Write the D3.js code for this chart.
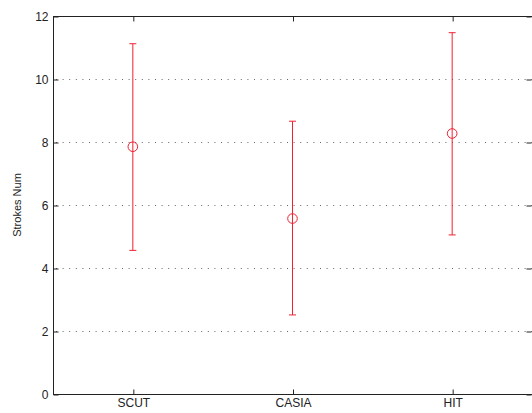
<!DOCTYPE html>
<html>
<head>
<meta charset="utf-8">
<script src="https://cdn.jsdelivr.net/npm/d3@7"></script>
<style>
  body { margin: 0; background: #fff; }
  svg { display: block; font-family: "Liberation Sans", Arial, sans-serif; }
</style>
</head>
<body>
<svg id="chart" width="532" height="413"></svg>
<script>
// data
var categories = ["SCUT", "CASIA", "HIT"];
var means = [7.85, 5.57, 8.27];
var upper = [11.12, 8.66, 11.47];
var lower = [4.56, 2.51, 5.05];
var yTicks = [0, 2, 4, 6, 8, 10, 12];

var svg = d3.select('#chart');
var plotLeft = 53, plotRight = 532, plotTop = 16, plotBottom = 394;

var x = d3.scaleLinear().domain([0.5, 3.5]).range([plotLeft, plotRight]);
var y = d3.scaleLinear().domain([0, 12]).range([plotBottom, plotTop]);

// grid lines
svg.append('g')
  .selectAll('line')
  .data(yTicks.filter(d => d > 0 && d < 12))
  .enter().append('line')
    .attr('x1', plotLeft + 3).attr('x2', plotRight)
    .attr('y1', d => Math.round(y(d)) + 0.5).attr('y2', d => Math.round(y(d)) + 0.5)
    .attr('stroke', '#666')
    .attr('stroke-width', 1)
    .attr('stroke-dasharray', '1,5.6');

// left axis
var yAxis = d3.axisLeft(y).tickValues(yTicks).tickSize(-5).tickPadding(5).tickFormat(d3.format('d'));
var gy = svg.append('g').attr('transform', 'translate(' + (plotLeft + 0.5) + ',0.5)').call(yAxis);
// right ticks
var gyr = svg.append('g').attr('transform', 'translate(' + (plotRight - 0.5) + ',0.5)')
  .call(d3.axisRight(y).tickValues(yTicks).tickSize(-5).tickFormat(''));

// bottom axis
var xAxis = d3.axisBottom(x).tickValues([1, 2, 3]).tickFormat((d, i) => categories[i]).tickSize(-5).tickPadding(4);
var gx = svg.append('g').attr('transform', 'translate(0.5,' + (plotBottom + 0.5) + ')').call(xAxis);
// top ticks
var gxt = svg.append('g').attr('transform', 'translate(0.5,' + (plotTop + 0.5) + ')')
  .call(d3.axisTop(x).tickValues([1, 2, 3]).tickSize(-5).tickFormat(''));

[gy, gx, gyr, gxt].forEach(g => {
  g.select('.domain').remove();
  g.selectAll('.tick line').attr('stroke', '#222');
  g.selectAll('text').attr('fill', '#222').style('font-size', '12px').style('font-family', '"Liberation Sans", Arial, sans-serif');
});

// box
svg.append('line').attr('x1', plotLeft + 0.5).attr('x2', plotLeft + 0.5).attr('y1', plotTop).attr('y2', plotBottom + 1).attr('stroke', '#222');
svg.append('line').attr('x1', plotLeft).attr('x2', plotRight).attr('y1', plotBottom + 0.5).attr('y2', plotBottom + 0.5).attr('stroke', '#222');
svg.append('line').attr('x1', plotLeft).attr('x2', plotRight).attr('y1', plotTop + 0.5).attr('y2', plotTop + 0.5).attr('stroke', '#222');

// y label
svg.append('text')
  .attr('transform', 'translate(21,' + ((plotTop + plotBottom) / 2) + ') rotate(-90)')
  .attr('text-anchor', 'middle')
  .style('font-size', '11px')
  .attr('fill', '#222')
  .text('Strokes Num');

// error bars
var bars = svg.append('g').selectAll('g')
  .data(categories)
  .enter().append('g');

bars.append('line')
  .attr('x1', (d, i) => x(i + 1)).attr('x2', (d, i) => x(i + 1))
  .attr('y1', (d, i) => y(upper[i])).attr('y2', (d, i) => y(lower[i]))
  .attr('stroke', '#f02030').attr('stroke-width', 1);
bars.append('line')
  .attr('x1', (d, i) => x(i + 1) - 3.5).attr('x2', (d, i) => x(i + 1) + 3.5)
  .attr('y1', (d, i) => y(upper[i])).attr('y2', (d, i) => y(upper[i]))
  .attr('stroke', '#f02030').attr('stroke-width', 1);
bars.append('line')
  .attr('x1', (d, i) => x(i + 1) - 3.5).attr('x2', (d, i) => x(i + 1) + 3.5)
  .attr('y1', (d, i) => y(lower[i])).attr('y2', (d, i) => y(lower[i]))
  .attr('stroke', '#f02030').attr('stroke-width', 1);
bars.append('circle')
  .attr('cx', (d, i) => x(i + 1))
  .attr('cy', (d, i) => y(means[i]))
  .attr('r', 4.8)
  .attr('fill', 'none')
  .attr('stroke', '#f02030').attr('stroke-width', 1);
</script>
</body>
</html>
